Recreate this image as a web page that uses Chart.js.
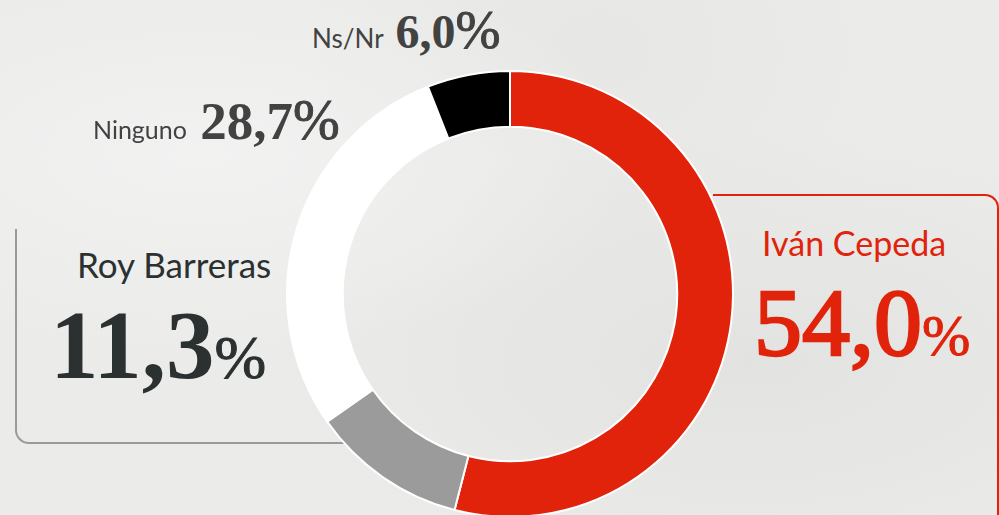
<!DOCTYPE html>
<html>
<head>
<meta charset="utf-8">
<script src="https://cdn.jsdelivr.net/npm/chart.js@4.4.1/dist/chart.umd.min.js"></script>
<style>
  html, body { margin: 0; padding: 0; }
  body {
    width: 999px; height: 515px; overflow: hidden; position: relative;
    background-color: #ebebea;
    background-image:
      radial-gradient(ellipse at 20% 30%, rgba(255,255,255,0.35), rgba(255,255,255,0) 40%),
      radial-gradient(ellipse at 75% 70%, rgba(210,210,208,0.35), rgba(210,210,208,0) 45%),
      radial-gradient(ellipse at 60% 10%, rgba(225,225,223,0.4), rgba(225,225,223,0) 35%);
  }
  #chartBox { position: absolute; left: 286px; top: 70px; width: 448px; height: 448px; }
  .frame { position: absolute; box-sizing: border-box; }
  #frameRoy {
    left: 15px; top: 229px; width: 333px; height: 215px;
    border-left: 2px solid #9a9a9a; border-bottom: 2px solid #9a9a9a;
    border-bottom-left-radius: 14px;
  }
  #frameIvan {
    left: 713px; top: 194px; width: 286px; height: 400px;
    border-top: 2px solid #e0230a; border-right: 2px solid #e0230a;
    border-top-right-radius: 14px;
  }
  .lbl { position: absolute; white-space: nowrap; line-height: 1; }
  .name { font-family: Lato, "Open Sans", sans-serif; }
  .num { font-family: "Liberation Serif", serif; font-weight: bold; }
  .pct { font-family: "Liberation Serif", serif; font-weight: normal; -webkit-text-stroke: 1px currentColor; }
  .mid { font-weight: normal; -webkit-text-stroke: 2.5px currentColor; }
</style>
</head>
<body>
<div class="frame" id="frameRoy"></div>
<div class="frame" id="frameIvan"></div>
<div id="chartBox"><canvas id="donut"></canvas></div>

<div class="lbl name" id="nameRoy" style="left:77px; top:247px; font-size:35px; color:#2b3030;"></div>
<div class="lbl num" id="valRoy" style="left:50px; top:297px; font-size:97px; color:#2b3030;"></div>

<div class="lbl name" id="nameIvan" style="left:762px; top:226px; font-size:34px; color:#e0230a;"></div>
<div class="lbl num mid" id="valIvan" style="left:754px; top:275px; font-size:96px; color:#e0230a;"></div>

<div class="lbl" id="rowNinguno" style="left:93px; top:92px; font-size:53px; color:#424242;"></div>
<div class="lbl" id="rowNsNr" style="left:312px; top:3px; font-size:48px; color:#424242;"></div>

<script>
// Data
const categories = ['Iván Cepeda', 'Roy Barreras', 'Ninguno', 'Ns/Nr'];
const shares = [54.0, 11.3, 28.7, 6.0];
const sliceColors = ['#e0230a', '#9b9b9b', '#ffffff', '#000000'];

const fmt = v => v.toFixed(1).replace('.', ',');

function bigValue(v, pctSize) {
    return fmt(v) + '<span class="pct" style="font-size:' + pctSize + 'px">%</span>';
}

function inlineRow(name, v, nameSize, pctSize) {
    return '<span class="name" style="font-size:' + nameSize + 'px">' + name + '</span> ' +
        '<span class="num">' + fmt(v) + '</span>' +
        '<span class="pct" style="font-size:' + pctSize + 'px">%</span>';
}

document.getElementById('nameIvan').textContent = categories[0];
document.getElementById('valIvan').innerHTML = bigValue(shares[0], 58);
document.getElementById('nameRoy').textContent = categories[1];
document.getElementById('valRoy').innerHTML = bigValue(shares[1], 62);
document.getElementById('rowNinguno').innerHTML = inlineRow(categories[2], shares[2], 25, 56);
document.getElementById('rowNsNr').innerHTML = inlineRow(categories[3], shares[3], 26, 54);

const ctx = document.getElementById('donut').getContext('2d');
new Chart(ctx, {
    type: 'doughnut',
    data: {
        labels: categories,
        datasets: [{
            data: shares,
            backgroundColor: sliceColors,
            borderColor: '#ffffff',
            borderWidth: 2
        }]
    },
    options: {
        responsive: true,
        maintainAspectRatio: false,
        animation: false,
        cutout: '75%',
        rotation: 0,
        layout: { padding: 0 },
        plugins: {
            legend: { display: false },
            tooltip: { enabled: false }
        }
    }
});
</script>
</body>
</html>
